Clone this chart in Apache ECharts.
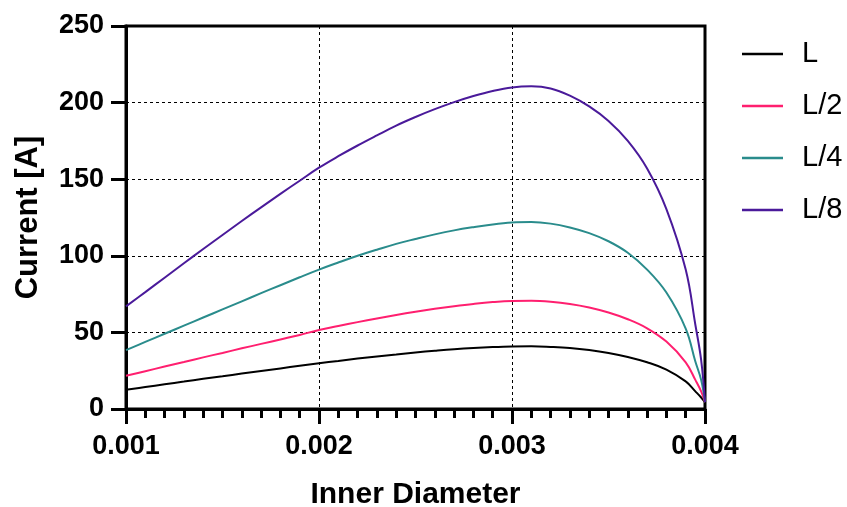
<!DOCTYPE html>
<html>
<head>
<meta charset="utf-8">
<script src="https://cdn.jsdelivr.net/npm/echarts@6/dist/echarts.min.js"></script>
<style>
html,body{margin:0;padding:0;background:#fff;}
#chart{width:847px;height:507px;}
</style>
</head>
<body>
<div id="chart"></div>
<script>
// Inner diameter values (x)
const diameters = [0.0010,0.0011,0.0012,0.0013,0.0014,0.0015,0.0016,0.0017,0.0018,0.0019,
  0.0020,0.0021,0.0022,0.0023,0.0024,0.0025,0.0026,0.0027,0.0028,0.0029,
  0.0030,0.0031,0.0032,0.0033,0.0034,0.0035,0.0036,0.0037,0.0038,0.0039,
  0.00395,0.00398,0.0040];
const seriesNames = ['L','L/2','L/4','L/8'];
const currentL = [12.5,14.3,16.1,17.9,19.7,21.4,23.1,24.8,26.5,28.2,
  29.9,31.4,32.9,34.3,35.6,36.9,38.0,39.0,39.8,40.4,
  40.8,40.9,40.5,39.8,38.5,36.6,34.0,30.5,25.7,18.0,
  11.5,7.5,4.5];
const currentL2 = [21.7,24.7,27.7,30.7,33.7,36.6,39.6,42.5,45.4,48.3,
  51.6,54.2,56.7,59.1,61.4,63.5,65.4,67.1,68.6,69.8,
  70.5,70.6,70.0,68.6,66.3,63.0,58.6,52.7,44.0,30.5,
  19.0,11.5,4.5];
const currentL4 = [38.4,43.8,49.1,54.4,59.7,65.0,70.3,75.6,80.8,86.0,
  91.0,95.6,100.0,104.0,107.8,111.0,114.0,116.6,118.7,120.5,
  121.7,122.0,121.0,118.5,114.8,109.5,102.0,91.0,76.0,52.5,
  31.0,19.0,4.5];
const currentL8 = [67.0,76.3,85.7,95.1,104.4,113.6,122.7,131.6,140.4,149.0,
  157.5,165.0,172.0,178.6,185.0,190.6,195.7,200.3,204.3,207.6,
  209.9,210.6,209.2,204.5,197.5,188.0,175.0,157.0,130.5,91.0,
  55.0,32.0,4.5];
const xTicks = [0.001,0.002,0.003,0.004];
const yTicks = [0,50,100,150,200,250];

const colors = ['#000000','#ff1f6f','#2a8c8c','#4a1a9a'];
const values = [currentL,currentL2,currentL4,currentL8];

const FONT = "'Liberation Sans', Arial, Helvetica, sans-serif";
const chart = echarts.init(document.getElementById('chart'), null, {renderer:'canvas'});

const series = seriesNames.map((name,i)=>({
  name: name,
  type: 'line',
  data: diameters.map((d,j)=>[d, values[i][j]]),
  symbol: 'none',
  smooth: 0.4,
  lineStyle: {color: colors[i], width: 2},
  itemStyle: {color: colors[i]},
  z: 3
}));

chart.setOption({
  animation: false,
  backgroundColor: '#ffffff',
  color: colors,
  grid: {left:126, right:142, top:26, bottom:98, show:true, borderColor:'#000', borderWidth:3,
    backgroundColor:'transparent', containLabel:false, outerBoundsMode:'none'},
  legend: {
    orient: 'vertical',
    left: 737,
    top: 32,
    itemWidth: 41,
    itemHeight: 2.5,
    itemGap: 18,
    icon: 'rect',
    data: seriesNames,
    textStyle: {fontFamily: FONT, fontSize: 29, color:'#000', lineHeight: 34, padding:[0,0,0,14]}
  },
  xAxis: {
    type: 'value',
    min: xTicks[0],
    max: xTicks[xTicks.length-1],
    interval: 0.001,
    name: 'Inner Diameter',
    nameLocation: 'middle',
    nameGap: 71,
    nameTextStyle: {fontFamily: FONT, fontSize: 30, fontWeight:'bold', color:'#000'},
    axisLine: {show:true, onZero:false, lineStyle:{color:'#000', width:3}},
    axisTick: {show:true, length:15, lineStyle:{color:'#000', width:3}},
    minorTick: {show:true, splitNumber:10, length:9, lineStyle:{color:'#000', width:3}},
    axisLabel: {margin: 24, fontFamily: FONT, fontSize: 27, fontWeight:'bold', color:'#000',
      formatter: v => v.toFixed(3)},
    splitLine: {show:true, lineStyle:{color:'#000', width:1, type:[3,3]}},
    minorSplitLine: {show:false}
  },
  yAxis: {
    type: 'value',
    min: yTicks[0],
    max: yTicks[yTicks.length-1],
    interval: 50,
    name: 'Current [A]',
    nameLocation: 'middle',
    nameGap: 82,
    nameTextStyle: {fontFamily: FONT, fontSize: 31, fontWeight:'bold', color:'#000'},
    axisLine: {show:true, onZero:false, lineStyle:{color:'#000', width:3}},
    axisTick: {show:true, length:15, lineStyle:{color:'#000', width:3}},
    axisLabel: {margin: 22, fontFamily: FONT, fontSize: 27, fontWeight:'bold', color:'#000'},
    splitLine: {show:true, lineStyle:{color:'#000', width:1, type:[3,3]}}
  },
  series: series
});
</script>
</body>
</html>
